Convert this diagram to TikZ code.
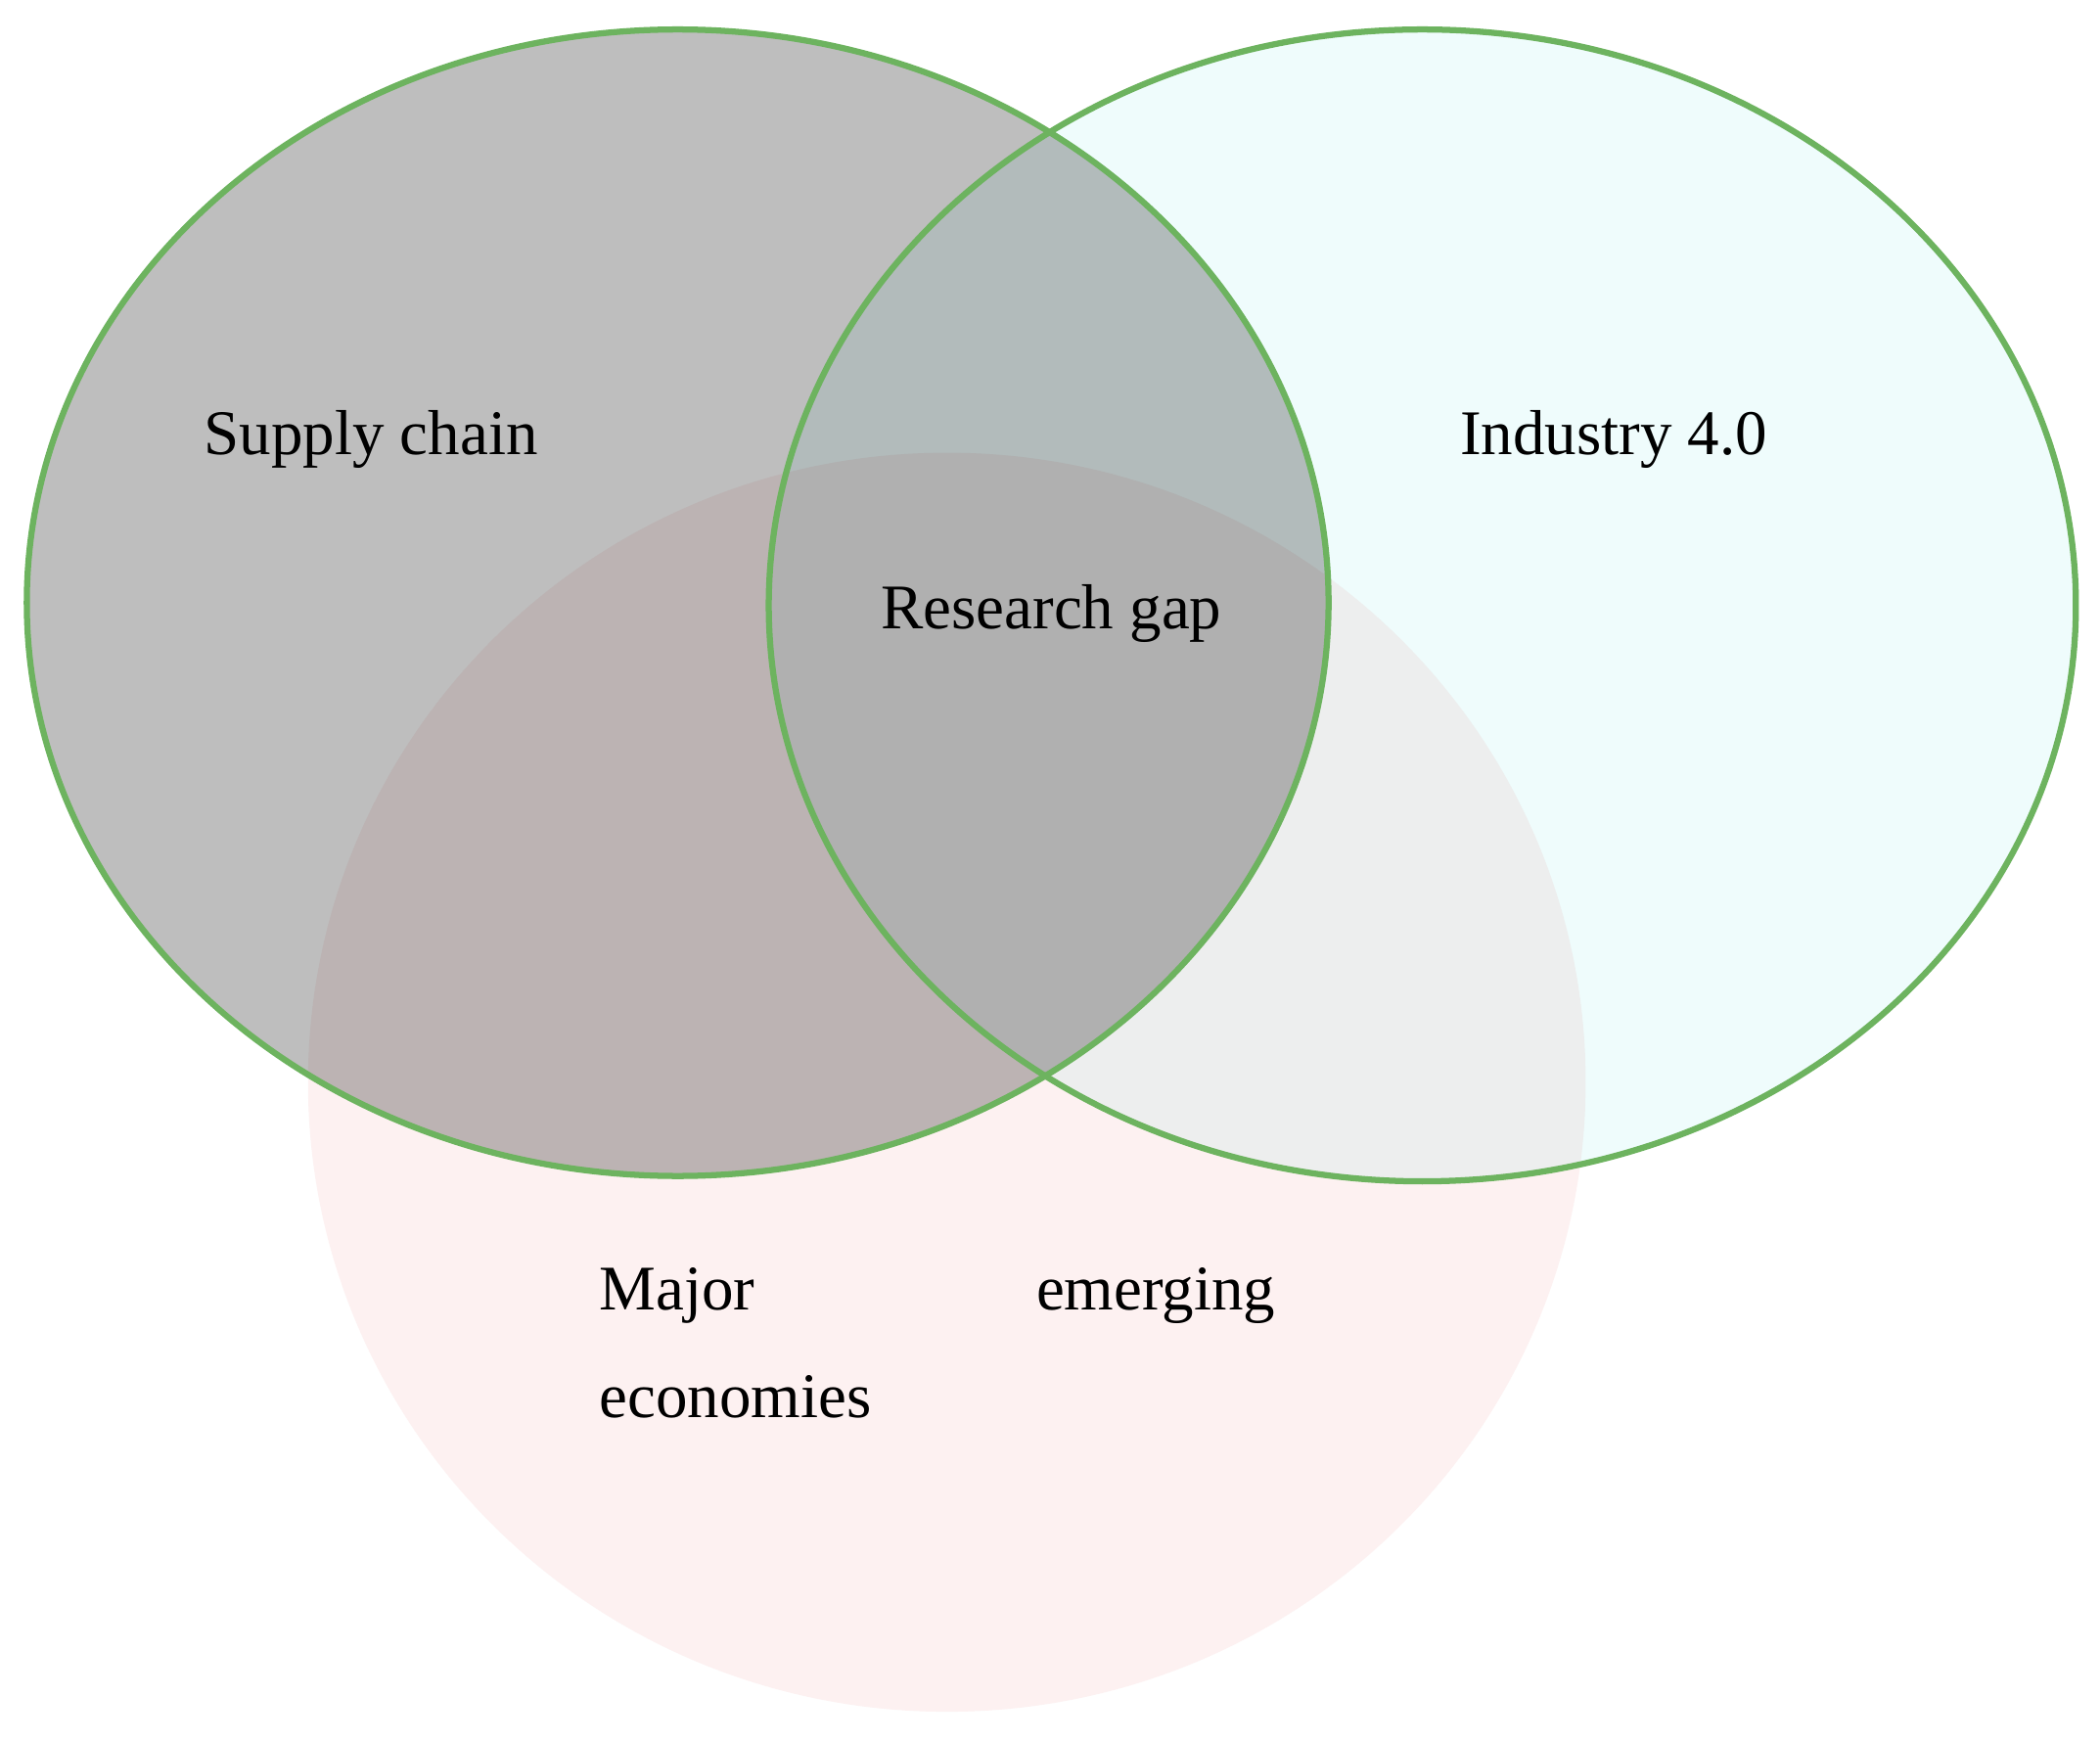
\documentclass[tikz,border=0pt]{standalone}
\usepackage{fontspec}
\setmainfont{Liberation Serif}
\begin{document}
\begin{tikzpicture}[x=0.01cm,y=-0.01cm,
  lbl/.style={font=\fontsize{13.5}{16}\selectfont, inner sep=0pt},
  ring/.style={draw=vgreen, line width=1.3pt}]
\definecolor{vgreen}{HTML}{6DB35F}
\definecolor{sgrey}{HTML}{BEBEBE}
\definecolor{icyan}{HTML}{EFFCFC}
\definecolor{mpink}{HTML}{FDF1F1}
\useasboundingbox (0,0) rectangle (1568,1300);
\fill[white] (0,0) rectangle (1568,1300);
\begin{scope}[blend mode=multiply]
\fill[sgrey] (506,450) ellipse [x radius=486, y radius=428];
\fill[icyan] (1062,452) ellipse [x radius=488, y radius=430];
\fill[mpink] (707,808) ellipse [x radius=477, y radius=470];
\end{scope}
\draw[ring] (506,450) ellipse [x radius=486, y radius=428];
\draw[ring] (1062,452) ellipse [x radius=488, y radius=430];
\node[lbl] (sc) at (277,328) {Supply chain};
\node[lbl] (ind) at (1205,328) {Industry 4.0};
\node[lbl] (rg) at (785,458) {Research gap};
\node[lbl, anchor=base west] (maj) at (447,978) {Major};
\node[lbl, anchor=base east] (eme) at (953,978) {emerging};
\node[lbl, anchor=base west] (eco) at (447,1058) {economies};
\end{tikzpicture}
\end{document}
